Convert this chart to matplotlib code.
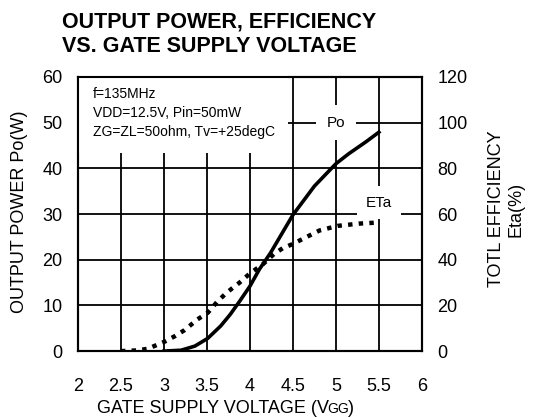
import matplotlib
matplotlib.use('Agg')
import matplotlib.pyplot as plt

plt.rcParams['font.family'] = ['Liberation Sans', 'DejaVu Sans']

# 출력전력 Po(W) vs 게이트 전압
vgg_po = [3.0, 3.2, 3.36, 3.51, 3.66, 3.77, 3.88, 4.0, 4.11, 4.24, 4.5, 4.75, 5.0, 5.15, 5.35, 5.5]
po = [0, 0.2, 1.1, 2.8, 5.5, 8.0, 10.9, 14.2, 17.9, 21.5, 29.8, 36.1, 41.0, 43.2, 45.8, 47.9]

# 효율 Eta(%) vs 게이트 전압
vgg_eta = [2.5, 2.68, 2.81, 3.0, 3.13, 3.24, 3.39, 3.51, 3.62, 3.73, 3.88, 4.0, 4.15, 4.28, 4.38, 4.5, 4.63, 4.81, 5.02, 5.27, 5.5]
eta = [0, 0.3, 1.0, 4.0, 6.6, 9.2, 13.9, 16.8, 21.6, 25.6, 30.0, 34.0, 38.0, 42.5, 45.0, 46.9, 49.4, 52.8, 54.8, 55.8, 56.3]

x_ticks = [2, 2.5, 3, 3.5, 4, 4.5, 5, 5.5, 6]
x_labels = ['2', '2.5', '3', '3.5', '4', '4.5', '5', '5.5', '6']
po_ticks = [0, 10, 20, 30, 40, 50, 60]
eta_ticks = [0, 20, 40, 60, 80, 100, 120]

fig = plt.figure(figsize=(5.34, 4.18), dpi=100)
ax = fig.add_axes([0.146, 0.160, 0.644, 0.656])
ax2 = ax.twinx()

ax.set_xlim(2, 6)
ax.set_ylim(0, 60)
ax2.set_ylim(0, 120)
ax.set_xticks(x_ticks)
ax.set_xticklabels(x_labels)
ax.set_yticks(po_ticks)
ax2.set_yticks(eta_ticks)

ax.grid(True, color='black', linewidth=1.3)
ax.set_axisbelow(True)
ax.tick_params(length=0, labelsize=13, pad=11)
ax.tick_params(axis='x', pad=19)
ax2.tick_params(length=0, labelsize=13, pad=11)
for a in (ax, ax2):
    for s in a.spines.values():
        s.set_linewidth(1.5)

ax.plot(vgg_po, po, color='black', linewidth=2.6, zorder=3)
ax2.plot(vgg_eta, eta, color='black', linewidth=3.2, linestyle=(0, (1, 1.4)),
         dash_capstyle='butt', zorder=3)

ax.text(2.17, 57.8, 'f=135MHz\nVDD=12.5V, Pin=50mW\nZG=ZL=50ohm, Tv=+25degC',
        fontsize=10, va='top', ha='left', linespacing=1.45, zorder=5,
        bbox=dict(facecolor='white', edgecolor='none', boxstyle='square,pad=1.0'))
ax.text(5.0, 50, 'Po', fontsize=11, ha='center', va='center', zorder=5,
        bbox=dict(facecolor='white', edgecolor='none', boxstyle='square,pad=0.7'))
ax.text(5.5, 32.5, 'ETa', fontsize=11, ha='center', va='center', zorder=5,
        bbox=dict(facecolor='white', edgecolor='none', boxstyle='square,pad=0.6'))

fig.text(0.116, 0.972, 'OUTPUT POWER, EFFICIENCY\nVS. GATE SUPPLY VOLTAGE',
         fontsize=15.5, fontweight='bold', ha='left', va='top', linespacing=1.2)

fig.text(0.037, 0.493, 'OUTPUT POWER Po(W)', fontsize=13, rotation=90,
         ha='center', va='center')
fig.text(0.948, 0.500, 'TOTL EFFICIENCY\nEta(%)', fontsize=13, rotation=90,
         ha='center', va='center', multialignment='center')

# x축 라벨: V 뒤의 GG는 작은 글씨, 같은 기준선
base_y = 0.012
t1 = fig.text(0.182, base_y, 'GATE SUPPLY VOLTAGE (V', fontsize=13,
              ha='left', va='baseline')
fig.canvas.draw()
r = fig.canvas.get_renderer()
x2 = fig.transFigure.inverted().transform(t1.get_window_extent(r).p1)[0]
t2 = fig.text(x2 - 0.004, base_y, 'GG', fontsize=10, ha='left', va='baseline')
fig.canvas.draw()
x3 = fig.transFigure.inverted().transform(t2.get_window_extent(r).p1)[0]
fig.text(x3 - 0.002, base_y, ')', fontsize=13, ha='left', va='baseline')

fig.savefig('out.png', dpi=100)
